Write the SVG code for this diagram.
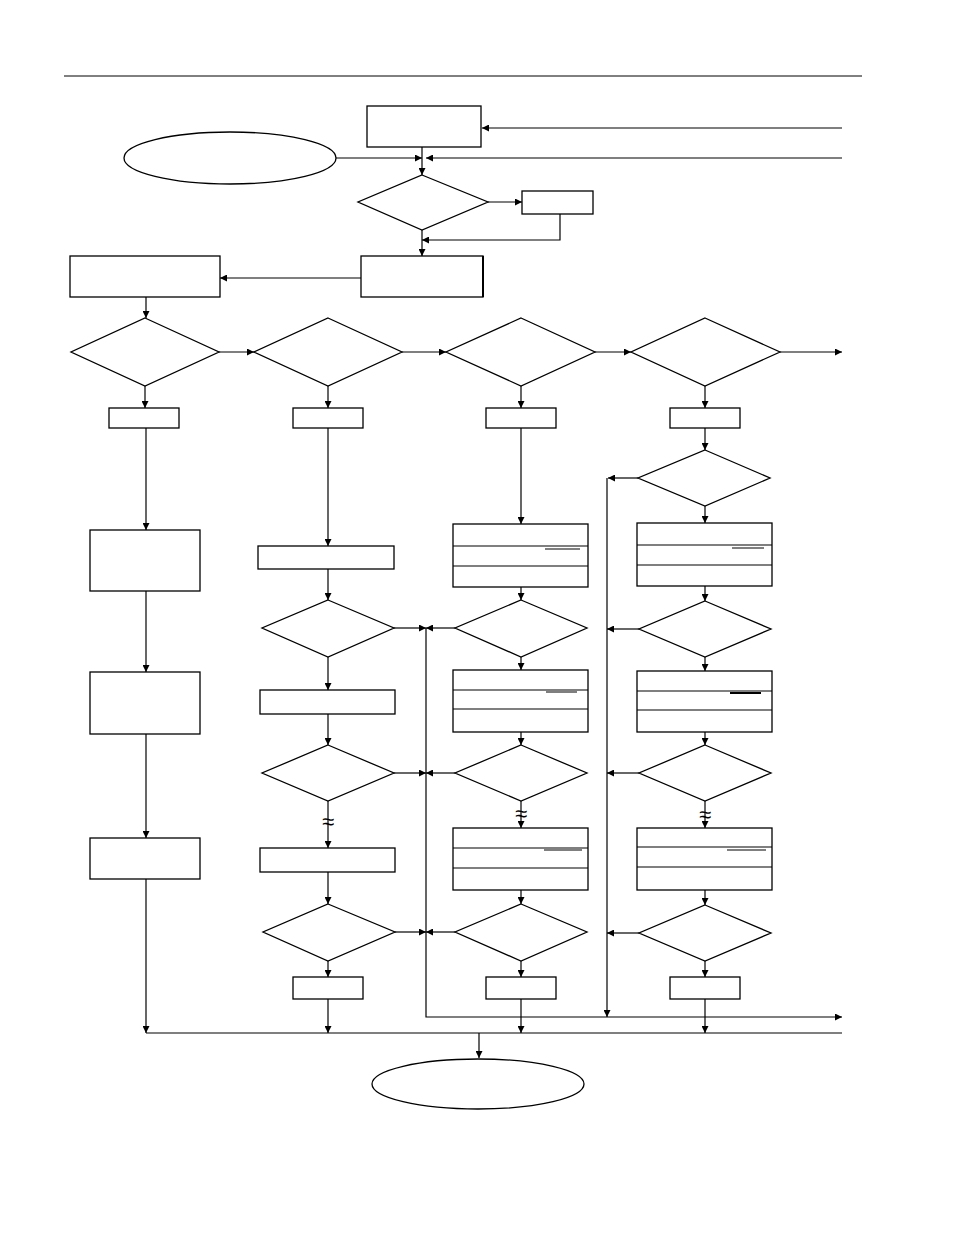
<svg xmlns="http://www.w3.org/2000/svg" width="954" height="1235" viewBox="0 0 954 1235">
<style>
.n{fill:#fff;stroke:#000;stroke-width:1.3}
.c{fill:none;stroke:#000;stroke-width:1.2}
.w{font-family:"DejaVu Sans",sans-serif;font-size:22px;font-weight:200;text-anchor:middle}
</style>
<defs><marker id="a" viewBox="0 0 10 10" refX="10" refY="5" markerWidth="7" markerHeight="7" orient="auto" markerUnits="userSpaceOnUse"><path d="M0,0L10,5L0,10z"/></marker></defs>
<rect width="954" height="1235" fill="#fff"/>
<line x1="64" y1="76" x2="862" y2="76" stroke="#000" stroke-width="1"/>
<g id="connectors" class="c" marker-end="url(#a)">
<path d="M336,158H422"/><path d="M842,128H482"/><path d="M842,158H426"/>
<path d="M422,147V175"/><path d="M488,202H522"/><path d="M560,214V240H422"/>
<path d="M422,230V256"/><path d="M361,278H220"/><path d="M146,297V318"/>
<path d="M219,352H254"/><path d="M402,352H446"/><path d="M595,352H631"/><path d="M780,352H842"/>
<path d="M145,386V408"/><path d="M328,386V408"/><path d="M521,386V408"/><path d="M705,386V408"/>
<path d="M146,428V530"/><path d="M146,591V672"/><path d="M146,734V838"/><path d="M146,879V1033"/>
<path d="M328,428V546"/><path d="M328,569V600"/><path d="M394,628H426"/><path d="M328,657V690"/><path d="M328,714V745"/><path d="M394,773H426"/><path d="M328,801V848"/><path d="M328,872V904"/><path d="M395,932H426"/><path d="M328,961V977"/><path d="M328,999V1033"/>
<path d="M426,628V1017H842"/>
<path d="M521,428V524"/><path d="M521,587V600"/><path d="M455,628H426"/><path d="M521,657V670"/><path d="M521,732V745"/><path d="M455,773H426"/><path d="M521,801V828"/><path d="M521,890V904"/><path d="M455,932H426"/><path d="M521,961V977"/><path d="M521,999V1033"/>
<path d="M705,428V450"/><path d="M638,478H608"/><path d="M607,478V1017"/><path d="M705,506V523"/><path d="M705,586V601"/><path d="M639,629H607"/><path d="M705,657V671"/><path d="M705,732V745"/><path d="M639,773H607"/><path d="M705,801V828"/><path d="M705,890V905"/><path d="M639,933H607"/><path d="M705,961V977"/><path d="M705,999V1033"/>
<path d="M146,1033H842" marker-end="none"/><path d="M479,1033V1058"/>
</g>
<g id="start"><ellipse class="n" cx="230" cy="158" rx="106" ry="26"/></g>
<g id="end"><ellipse class="n" cx="478" cy="1084" rx="106" ry="25"/></g>
<g id="boxA"><rect class="n" x="367" y="106" width="114" height="41"/></g>
<g id="dec0"><polygon class="n" points="422,175 488,202 422,230 358,202"/></g>
<g id="boxB"><rect class="n" x="522" y="191" width="71" height="23" stroke-width="2"/></g>
<g id="boxC"><rect class="n" x="361" y="256" width="122" height="41"/><line x1="483" y1="256" x2="483" y2="297" stroke="#000" stroke-width="2"/></g>
<g id="boxD"><rect class="n" x="70" y="256" width="150" height="41"/></g>
<g id="row">
<polygon class="n" points="145,318 219,352 145,386 71,352"/>
<polygon class="n" points="328,318 402,352 328,386 254,352"/>
<polygon class="n" points="521,318 595,352 521,386 446,352"/>
<polygon class="n" points="705,318 780,352 705,386 631,352"/>
<rect class="n" x="109" y="408" width="70" height="20"/>
<rect class="n" x="293" y="408" width="70" height="20"/>
<rect class="n" x="486" y="408" width="70" height="20"/>
<rect class="n" x="670" y="408" width="70" height="20"/>
</g>
<g id="col1">
<rect class="n" x="90" y="530" width="110" height="61"/>
<rect class="n" x="90" y="672" width="110" height="62"/>
<rect class="n" x="90" y="838" width="110" height="41"/>
</g>
<g id="col2">
<rect class="n" x="258" y="546" width="136" height="23"/>
<polygon class="n" points="328,600 394,628 328,657 262,628"/>
<rect class="n" x="260" y="690" width="135" height="24"/>
<polygon class="n" points="328,745 394,773 328,801 262,773"/>
<rect class="n" x="260" y="848" width="135" height="24"/>
<polygon class="n" points="328,904 395,932 328,961 263,932"/>
<rect class="n" x="293" y="977" width="70" height="22"/>
<text class="w" x="328" y="829">≈</text>
</g>
<g id="col3">
<rect class="n" x="453" y="524" width="135" height="63"/><path class="c" d="M453,546H588M453,566H588M545,549H580"/>
<polygon class="n" points="521,600 587,628 521,657 455,628"/>
<rect class="n" x="453" y="670" width="135" height="62" stroke-width="1.8"/><path class="c" d="M453,690H588M453,709H588M546,692H577"/>
<polygon class="n" points="521,745 587,773 521,801 455,773"/>
<rect class="n" x="453" y="828" width="135" height="62"/><path class="c" d="M453,848H588M453,868H588M544,850H582"/>
<polygon class="n" points="521,904 587,932 521,961 455,932"/>
<rect class="n" x="486" y="977" width="70" height="22"/>
<text class="w" x="521" y="821">≈</text>
</g>
<g id="col4">
<polygon class="n" points="705,450 770,478 705,506 638,478"/>
<rect class="n" x="637" y="523" width="135" height="63"/><path class="c" d="M637,545H772M637,565H772M732,548H764"/>
<polygon class="n" points="705,601 771,629 705,657 639,629"/>
<rect class="n" x="637" y="671" width="135" height="61" stroke-width="2"/><path class="c" d="M637,691H772M637,710H772"/><path d="M730,693H761" stroke="#000" stroke-width="2"/>
<polygon class="n" points="705,745 771,773 705,801 639,773"/>
<rect class="n" x="637" y="828" width="135" height="62"/><path class="c" d="M637,847H772M637,867H772M727,850H766"/>
<polygon class="n" points="705,905 771,933 705,961 639,933"/>
<rect class="n" x="670" y="977" width="70" height="22"/>
<text class="w" x="705" y="822">≈</text>
</g>
</svg>
